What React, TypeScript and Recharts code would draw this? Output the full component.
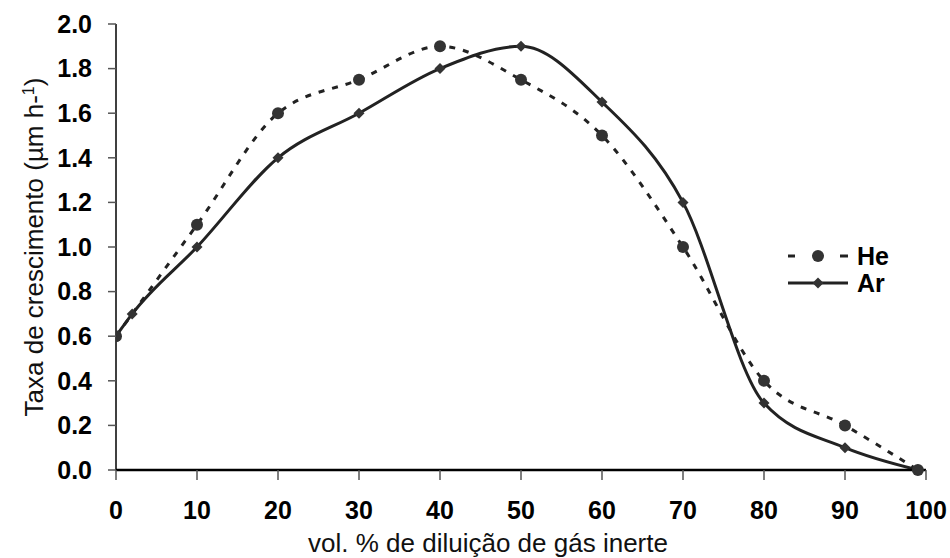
import { LineChart, Line, XAxis, YAxis, Label } from "recharts";

// vol. % de diluição (x) e taxa de crescimento (y)
const heX = [0, 10, 20, 30, 40, 50, 60, 70, 80, 90, 99];
const heY = [0.6, 1.1, 1.6, 1.75, 1.9, 1.75, 1.5, 1.0, 0.4, 0.2, 0.0];
const arX = [0, 2, 10, 20, 30, 40, 50, 60, 70, 80, 90, 99];
const arY = [0.6, 0.7, 1.0, 1.4, 1.6, 1.8, 1.9, 1.65, 1.2, 0.3, 0.1, 0.0];

const xTicks = [0, 10, 20, 30, 40, 50, 60, 70, 80, 90, 100];
const yTicks = [0, 0.2, 0.4, 0.6, 0.8, 1.0, 1.2, 1.4, 1.6, 1.8, 2.0];

const heData = heX.map((x, i) => ({ x, v: heY[i] }));
const arData = arX.map((x, i) => ({ x, v: arY[i] }));

const FONT = "'Liberation Sans', Arial, sans-serif";
const INK = "#222";

const circleDot = (p: any) => (
  <circle key={`he-${p.index}`} cx={p.cx} cy={p.cy} r={6} fill="#333" />
);

const diamondDot = (p: any) => (
  <path
    key={`ar-${p.index}`}
    d={`M${p.cx},${p.cy - 5.5}L${p.cx + 5.5},${p.cy}L${p.cx},${p.cy + 5.5}L${p.cx - 5.5},${p.cy}Z`}
    fill="#333"
  />
);

// legenda fora do grafico, posicionada como no original
function LegendBox() {
  return (
    <svg width={140} height={74} style={{ position: "absolute", left: 785, top: 235, display: "block", overflow: "visible" }}>
      <line x1={3} y1={21} x2={10} y2={21} stroke={INK} strokeWidth={3} />
      <line x1={55} y1={21} x2={63} y2={21} stroke={INK} strokeWidth={3} />
      <circle cx={33} cy={21} r={6} fill="#333" />
      <text x={72} y={29.5} fontSize={25} fontWeight="bold" fontFamily={FONT} fill="#000">He</text>
      <line x1={3} y1={48} x2={63} y2={48} stroke={INK} strokeWidth={3} />
      <path d="M33,42.5L38.5,48L33,53.5L27.5,48Z" fill="#333" />
      <text x={72} y={56.5} fontSize={25} fontWeight="bold" fontFamily={FONT} fill="#000">Ar</text>
    </svg>
  );
}

export default function App() {
  return (
    <div style={{ position: "absolute", left: 0, top: 0, width: 950, height: 558, background: "#fff" }}>
      <LineChart width={950} height={558} margin={{ top: 24, right: 24, bottom: 0, left: 16 }}>
        <XAxis
          dataKey="x"
          type="number"
          domain={[0, 100]}
          ticks={xTicks}
          allowDataOverflow
          height={88}
          tickSize={10}
          tickMargin={21}
          axisLine={{ stroke: "#000", strokeWidth: 2.5 }}
          tickLine={{ stroke: "#555", strokeWidth: 1.5 }}
          tick={{ fill: "#000", fontSize: 25, fontWeight: "bold", fontFamily: FONT }}
        >
          <Label
            content={() => (
              <text x={488} y={552} textAnchor="middle" fontSize={26} fontFamily={FONT} fill="#111">
                vol. % de diluição de gás inerte
              </text>
            )}
          />
        </XAxis>
        <YAxis
          type="number"
          domain={[0, 2]}
          ticks={yTicks}
          width={100}
          tickSize={8}
          tickMargin={16}
          tickFormatter={(v: number) => v.toFixed(1)}
          axisLine={{ stroke: "#000", strokeWidth: 1.5 }}
          tickLine={{ stroke: "#555", strokeWidth: 1.5 }}
          tick={{ fill: "#000", fontSize: 25, fontWeight: "bold", fontFamily: FONT }}
        >
          <Label
            content={() => (
              <text transform="translate(43,247) rotate(-90)" textAnchor="middle" fontSize={26} fontFamily={FONT} fill="#111">
                Taxa de crescimento (µm h-
                <tspan dy={-9} fontSize={16}>1</tspan>
                <tspan dy={9}>)</tspan>
              </text>
            )}
          />
        </YAxis>
        <Line
          data={heData}
          dataKey="v"
          name="He"
          type="monotone"
          stroke={INK}
          strokeWidth={3}
          strokeDasharray="6 8"
          dot={circleDot}
          activeDot={false}
          isAnimationActive={false}
        />
        <Line
          data={arData}
          dataKey="v"
          name="Ar"
          type="monotone"
          stroke={INK}
          strokeWidth={3}
          dot={diamondDot}
          activeDot={false}
          isAnimationActive={false}
        />
      </LineChart>
      <LegendBox />
    </div>
  );
}
